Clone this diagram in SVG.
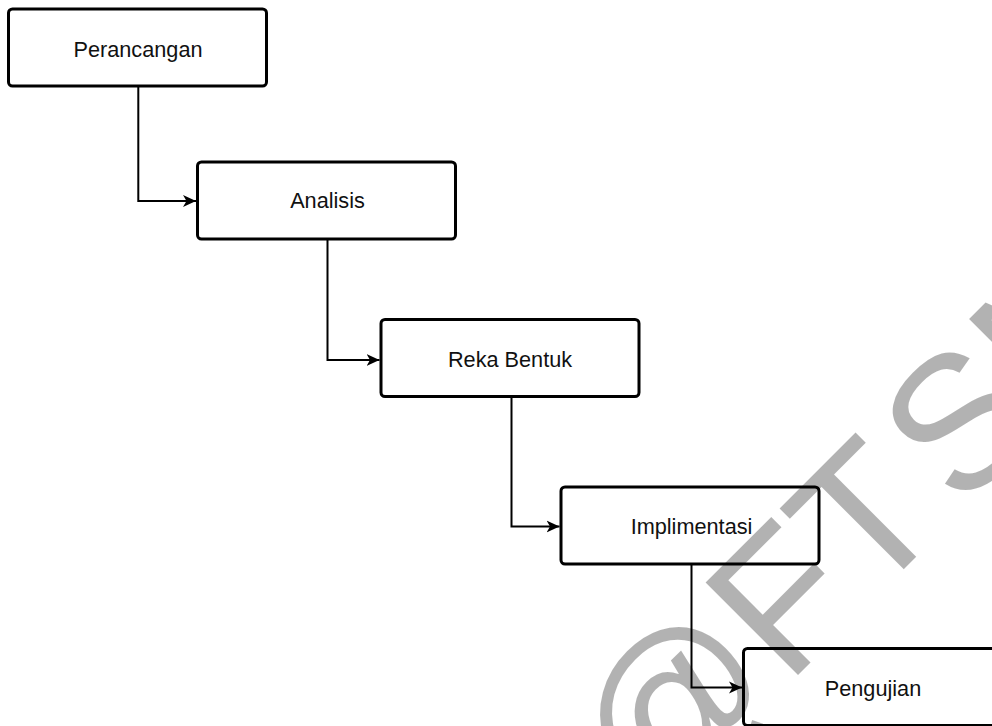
<svg xmlns="http://www.w3.org/2000/svg" width="992" height="726" viewBox="0 0 992 726">
<style>
.box{fill:#fff;stroke:#000;stroke-width:3}
.lbl{font-family:"Liberation Sans",Arial,sans-serif;font-size:21.7px;fill:#111;text-anchor:middle}
.conn{fill:none;stroke:#000;stroke-width:2}
.wm{font-family:"Liberation Sans",Arial,sans-serif;font-size:190px;fill:#000;fill-opacity:0.3}
</style>
<defs>
<marker id="arr" markerUnits="userSpaceOnUse" markerWidth="14" markerHeight="14" viewBox="0 0 14 14" refX="13" refY="7" orient="auto">
<path d="M0,1 L13,7 L0,13 L3.5,7 Z" fill="#000"/>
</marker>
</defs>
<rect width="992" height="726" fill="#fff"/>
<g id="node-perancangan">
<rect class="box" x="8.5" y="9" width="258" height="77" rx="4"/>
<text class="lbl" x="138" y="56.5">Perancangan</text>
</g>
<g id="node-analisis">
<rect class="box" x="197.5" y="162" width="258" height="77" rx="4"/>
<text class="lbl" x="327.5" y="208.3">Analisis</text>
</g>
<g id="node-reka-bentuk">
<rect class="box" x="381" y="319.5" width="258" height="77" rx="4"/>
<text class="lbl" x="510" y="366.5">Reka Bentuk</text>
</g>
<g id="node-implimentasi">
<rect class="box" x="561" y="487" width="258" height="77" rx="4"/>
<text class="lbl" x="691.5" y="534">Implimentasi</text>
</g>
<g id="node-pengujian">
<rect class="box" x="743.5" y="648.5" width="258" height="77" rx="4"/>
<text class="lbl" x="873" y="696">Pengujian</text>
</g>
<g id="connectors">
<path class="conn" d="M138.3,86 V201 H196" marker-end="url(#arr)"/>
<path class="conn" d="M327.5,239 V360 H379.5" marker-end="url(#arr)"/>
<path class="conn" d="M511.5,397 V526.5 H559.5" marker-end="url(#arr)"/>
<path class="conn" d="M691.5,564 V687.5 H742" marker-end="url(#arr)"/>
</g>
<g id="watermark">
<text class="wm" x="650.5" y="822.5" transform="rotate(-45 650.5 822.5)">@FT<tspan dx="14">SM</tspan></text>
</g>
</svg>
